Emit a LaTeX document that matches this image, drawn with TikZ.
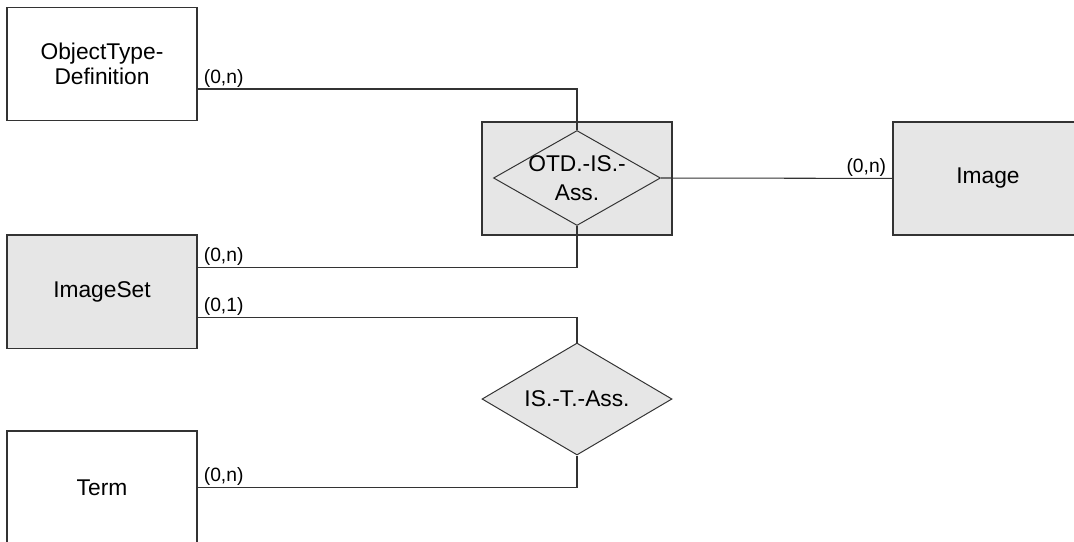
\documentclass[tikz,border=0pt]{standalone}
\usepackage{fontspec}
\setmainfont{Liberation Sans}
\usetikzlibrary{positioning, shapes.geometric, calc}
\definecolor{cfill}{HTML}{E6E6E6}
\definecolor{cline}{HTML}{333333}
\tikzset{
  every picture/.style={font=\fontsize{16.2}{18}\selectfont, line width=0.75pt},
  entity/.style={draw=cline, fill=#1, line width=1pt, minimum width=4.75cm, minimum height=2.83cm, align=center, inner sep=0pt},
  entity/.default=white,
  rel/.style={diamond, draw=cline, fill=cfill, line width=0.7pt, inner sep=0pt, shape aspect=1.7},
  link/.style={draw=cline, line width=0.75pt},
  card/.style={font=\fontsize{13.7}{15}\selectfont, inner xsep=4pt, inner ysep=1pt},
}
\begin{document}
\begin{tikzpicture}
  \useasboundingbox (0,0) rectangle (26.85,-13.525);
  \clip (0,0) rectangle (26.85,-13.525);
  \node[entity] (otdef) at (2.55,-1.6) {ObjectType-\\Definition};
  \node[entity=cfill] (otdbox) at (14.425,-4.46) {};
  \node[rel, minimum width=4.175cm, minimum height=2.375cm] (otd) at (14.425,-4.45) {};
  \node[align=center, font=\fontsize{16.2}{21}\selectfont] (otdtext) at (otd) {OTD.-IS.-\\Ass.};
  \node[entity=cfill] (image) at (24.7,-4.46) {Image};
  \node[entity=cfill] (imgset) at (2.55,-7.29) {ImageSet};
  \node[rel, minimum width=4.75cm, minimum height=2.8cm] (ist) at (14.425,-9.975) {IS.-T.-Ass.};
  \node[entity] (term) at (2.55,-12.19) {Term};
  % connectors with cardinalities
  \draw[link] ($(otdef.east)+(0,-0.625)$) node[card, above right] {(0,n)} -| (otd.north);
  \draw[link] (otd.east) -- (image.west) node[card, above left] {(0,n)};
  \draw[link] ($(imgset.east)+(0,0.6125)$) node[card, above right] {(0,n)} -| (otd.south);
  \draw[link] ($(imgset.east)+(0,-0.6375)$) node[card, above right] {(0,1)} -| (ist.north);
  \draw[link] (term.east) node[card, above right] {(0,n)} -| (ist.south);
\end{tikzpicture}
\end{document}
